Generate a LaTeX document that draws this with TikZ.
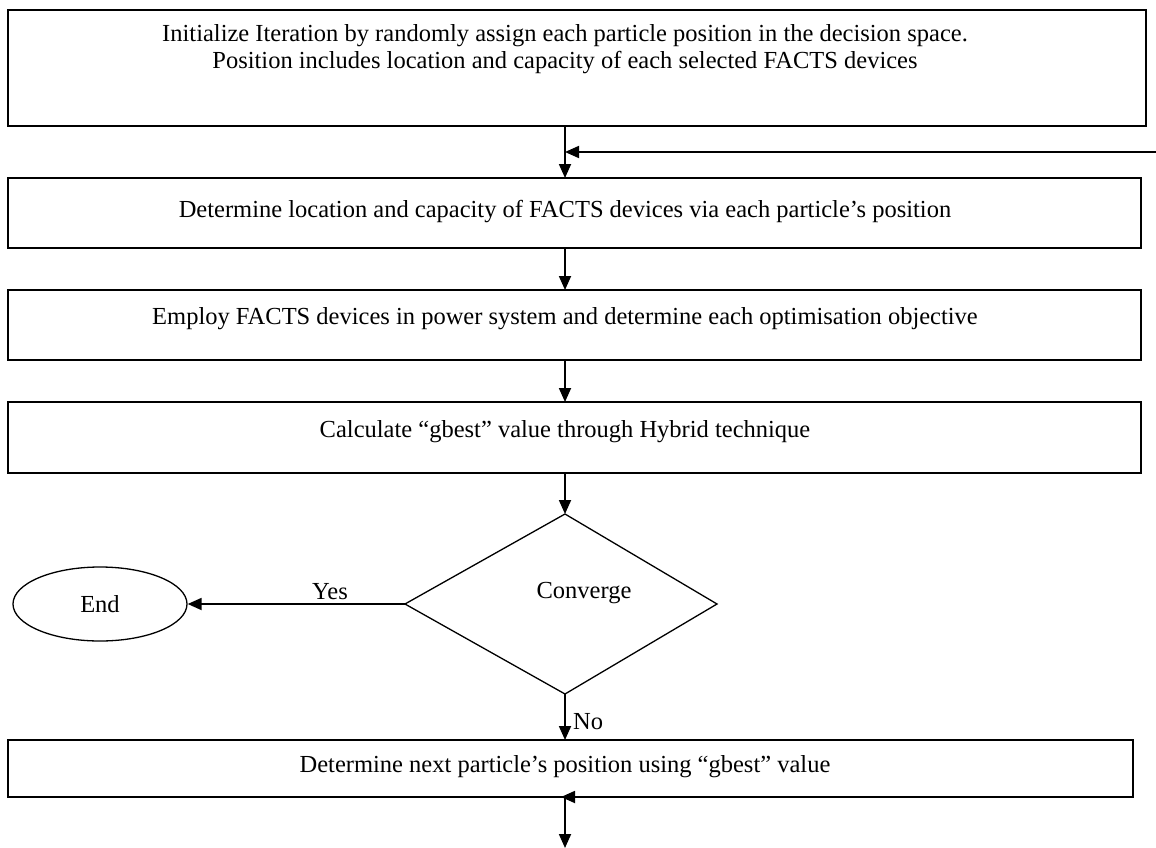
\documentclass[tikz,border=0pt]{standalone}
\usepackage{fontspec}
\setmainfont{Liberation Serif}
\usetikzlibrary{shapes.geometric,arrows.meta}
\begin{document}
\begin{tikzpicture}[x=1pt,y=-1pt,
  box/.style={draw,line width=1.6pt,rectangle,inner sep=0pt},
  arr/.style={line width=1.8pt,-{Triangle[length=14pt,width=12pt]}},
  txt/.style={font=\fontsize{24.5}{25}\selectfont,align=center,inner sep=0pt}]
\useasboundingbox (0,0) rectangle (1156,848);
% boxes
\draw[box] (8,10) rectangle (1146,126);
\node[txt,anchor=base] (t1) at (565,42) {Initialize Iteration by randomly assign each particle position in the decision space.};
\node[txt,anchor=base] (t1b) at (565,69) {Position includes location and capacity of each selected FACTS devices};
\draw[box] (8,178) rectangle (1141,248);
\node[txt] (t2) at (565,212) {Determine location and capacity of FACTS devices via each particle’s position};
\draw[box] (8,290) rectangle (1141,360);
\node[txt] (t3) at (565,319) {Employ FACTS devices in power system and determine each optimisation objective};
\draw[box] (8,402) rectangle (1141,473);
\node[txt] (t4) at (565,432) {Calculate “gbest” value through Hybrid technique};
\draw[box] (8,740) rectangle (1133,797);
\node[txt] (t5) at (565,767) {Determine next particle’s position using “gbest” value};
% named anchor coordinates
\coordinate (b1) at (565,126);
\coordinate (b2t) at (565,178);
\coordinate (b2) at (565,248);
\coordinate (b3t) at (565,290);
\coordinate (b3) at (565,360);
\coordinate (b4t) at (565,402);
\coordinate (b4) at (565,473);
\coordinate (b5t) at (565,740);
\coordinate (b5) at (565,797);
\coordinate (b5r) at (577,797);
\coordinate (b5l) at (561,797);
\coordinate (fb) at (1156,152);
\coordinate (fbend) at (565,152);
\coordinate (bot) at (565,848);
% diamond
\draw[line width=1.3pt] (565,514) -- (717,604) -- (565,694) -- (405,604) -- cycle;
\coordinate (dt) at (565,514);
\coordinate (dl) at (405,604);
\coordinate (db) at (565,694);
\node[txt] (conv) at (584,593) {Converge};
% ellipse
\node[draw,ellipse,line width=1.3pt,minimum width=174pt,minimum height=74pt,txt] (end) at (100,604) {End};
% arrows
\draw[arr] (b1) -- (b2t);
\draw[arr] (fb) -- (fbend);
\draw[arr] (b2) -- (b3t);
\draw[arr] (b3) -- (b4t);
\draw[arr] (b4) -- (dt);
\draw[arr] (dl) -- (end.east);
\node[txt] (yes) at (330,592) {Yes};
\draw[arr] (db) -- (b5t);
\node[txt,anchor=west] (no) at (573,722) {No};
\draw[arr,shorten >=0pt] (b5r) -- (b5l);
\draw[arr] (b5) -- (bot);
\end{tikzpicture}
\end{document}
